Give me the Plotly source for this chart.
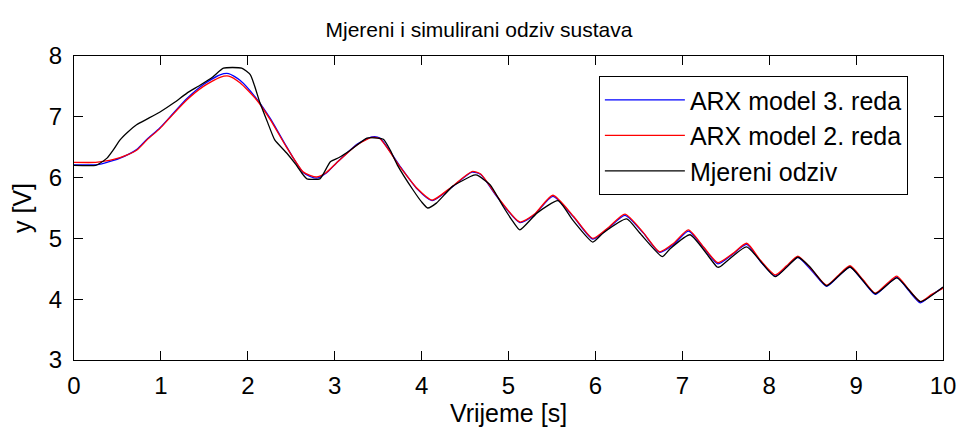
import plotly.graph_objects as go

meas_t = [0, 0.25, 0.28, 0.38, 0.45, 0.53, 0.62, 0.72, 0.85, 0.99, 1.15, 1.3, 1.45,
          1.6, 1.72, 1.93, 2.03, 2.14, 2.23, 2.31, 2.45, 2.55, 2.64, 2.68, 2.83, 2.95,
          3.05, 3.18, 3.37, 3.49, 3.56, 3.64, 3.72, 3.9, 4.0, 4.07, 4.17, 4.36, 4.6,
          4.64, 4.79, 4.94, 5.05, 5.13, 5.33, 5.57, 5.74, 5.97, 6.09, 6.36, 6.51, 6.77,
          6.86, 7.09, 7.4, 7.43, 7.74, 8.07, 8.33, 8.47, 8.66, 8.93, 9.22, 9.47, 9.74, 10.0]
meas_y = [6.2, 6.2, 6.22, 6.32, 6.45, 6.62, 6.75, 6.87, 6.97, 7.08, 7.23, 7.39, 7.52,
          7.66, 7.8, 7.8, 7.69, 7.23, 6.9, 6.62, 6.4, 6.22, 6.04, 5.98, 5.98, 6.26,
          6.33, 6.45, 6.65, 6.65, 6.63, 6.45, 6.21, 5.8, 5.6, 5.5, 5.58, 5.86, 6.04,
          6.04, 5.88, 5.52, 5.28, 5.14, 5.42, 5.62, 5.3, 4.94, 5.09, 5.32, 5.09, 4.7,
          4.83, 5.06, 4.53, 4.53, 4.86, 4.37, 4.69, 4.53, 4.22, 4.53, 4.09, 4.35, 3.96, 4.2]

# simulated responses of the two ARX models
sim_t = [0, 0.25, 0.35, 0.53, 0.72, 0.84, 0.99, 1.1, 1.3, 1.49, 1.68, 1.78, 1.91, 2.1,
         2.26, 2.45, 2.64, 2.79, 2.9, 3.02, 3.26, 3.43, 3.52, 3.75, 3.95, 4.12, 4.33,
         4.58, 4.68, 4.87, 5.13, 5.3, 5.51, 5.75, 5.97, 6.15, 6.34, 6.55, 6.74, 6.9,
         7.07, 7.25, 7.41, 7.58, 7.74, 7.9, 8.07, 8.2, 8.33, 8.5, 8.66, 8.8, 8.93, 9.08,
         9.22, 9.35, 9.47, 9.6, 9.74, 9.87, 10.0]
arx2_y = [6.25, 6.25, 6.27, 6.33, 6.45, 6.62, 6.81, 6.98, 7.28, 7.5, 7.65, 7.67, 7.56,
          7.28, 6.95, 6.49, 6.09, 6.01, 6.08, 6.24, 6.54, 6.66, 6.64, 6.18, 5.82, 5.63,
          5.83, 6.1, 6.06, 5.69, 5.27, 5.4, 5.71, 5.36, 5.0, 5.18, 5.4, 5.1, 4.78, 4.92,
          5.14, 4.85, 4.6, 4.75, 4.92, 4.64, 4.4, 4.55, 4.71, 4.47, 4.23, 4.4, 4.55, 4.32,
          4.1, 4.25, 4.38, 4.17, 3.96, 4.08, 4.18]
arx3_y = [6.21, 6.21, 6.24, 6.32, 6.46, 6.63, 6.82, 6.99, 7.3, 7.53, 7.69, 7.71, 7.6,
          7.3, 6.97, 6.5, 6.08, 5.99, 6.07, 6.24, 6.55, 6.67, 6.65, 6.19, 5.81, 5.62,
          5.82, 6.09, 6.05, 5.68, 5.26, 5.39, 5.69, 5.35, 4.99, 5.17, 5.38, 5.09, 4.77,
          4.9, 5.12, 4.84, 4.58, 4.74, 4.9, 4.62, 4.38, 4.53, 4.69, 4.45, 4.21, 4.38,
          4.53, 4.3, 4.08, 4.23, 4.36, 4.15, 3.94, 4.07, 4.19]

fig = go.Figure()

fig.add_trace(go.Scatter(x=sim_t, y=arx3_y, mode="lines", name="ARX model 3. reda",
                         line=dict(color="#0000ff", width=1.3, shape="spline", smoothing=0.6)))
fig.add_trace(go.Scatter(x=sim_t, y=arx2_y, mode="lines", name="ARX model 2. reda",
                         line=dict(color="#ff0000", width=1.3, shape="spline", smoothing=0.6)))
fig.add_trace(go.Scatter(x=meas_t, y=meas_y, mode="lines", name="Mjereni odziv",
                         line=dict(color="#000000", width=1.3, shape="spline", smoothing=0.5)))

axis_style = dict(
    showgrid=False, zeroline=False, automargin=False,
    showline=True, linecolor="black", linewidth=1, mirror="ticks",
    ticks="inside", ticklen=9, tickcolor="black", tickwidth=1,
    tickfont=dict(size=24, color="black"),
)

fig.update_xaxes(range=[0, 10], dtick=1, ticklabelstandoff=4,
                 title=dict(text="Vrijeme [s]", font=dict(size=25, color="black"), standoff=2),
                 **axis_style)
fig.update_yaxes(range=[3, 8], dtick=1, ticklabelstandoff=6,
                 title=dict(text="y [V]", font=dict(size=25, color="black"), standoff=10),
                 **axis_style)

fig.update_layout(
    width=958, height=432,
    margin=dict(l=74, r=15, t=56, b=72),
    paper_bgcolor="white", plot_bgcolor="white",
    font=dict(family="Liberation Sans, Arial, sans-serif", color="black"),
    title=dict(text="Mjereni i simulirani odziv sustava", x=0.5, xref="container",
               xanchor="center", y=1 - 30 / 432, yanchor="middle", automargin=False,
               font=dict(size=21, color="black")),
    legend=dict(x=0.604, y=0.934, xanchor="left", yanchor="top",
                bgcolor="white", bordercolor="black", borderwidth=1,
                font=dict(size=25, color="black"), itemwidth=80,
                tracegroupgap=0),
    showlegend=True,
)

# drop the browser's default body margin so the figure fills the window exactly
fig.write_html("out.html", config={"displayModeBar": False},
               post_script="document.body.style.margin = '0';")
